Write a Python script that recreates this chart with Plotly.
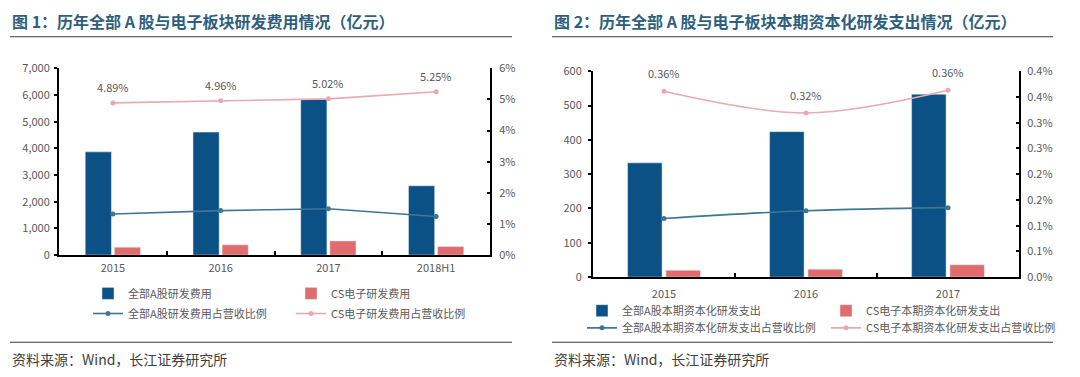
import plotly.graph_objects as go

W, H = 1080, 377
FONT = "Noto Sans CJK SC"

# ---------------- data: chart 1 ----------------
cats1 = ["2015", "2016", "2017", "2018H1"]
a_rd = [3870, 4610, 5840, 2600]           # 全部A股研发费用 (亿元)
cs_rd = [298, 385, 532, 324]              # CS电子研发费用 (亿元)
a_ratio = [0.0132, 0.0143, 0.0149, 0.0124]
cs_ratio = [0.0489, 0.0496, 0.0502, 0.0525]
cs_ratio_labels = ["4.89%", "4.96%", "5.02%", "5.25%"]
y1_ticks = [0, 1000, 2000, 3000, 4000, 5000, 6000, 7000]
y2_ticks = [0, 0.01, 0.02, 0.03, 0.04, 0.05, 0.06]

# ---------------- data: chart 2 ----------------
cats2 = ["2015", "2016", "2017"]
a_cap = [333, 424, 533]                   # 全部A股本期资本化研发支出
cs_cap = [20, 23, 36]                     # CS电子本期资本化研发支出
a_cap_ratio = [0.00114, 0.00129, 0.00135]
cs_cap_ratio = [0.00361, 0.00319, 0.00363]
cs_cap_labels = ["0.36%", "0.32%", "0.36%"]
y3_ticks = [0, 100, 200, 300, 400, 500, 600]
y4_tickvals = [0, 0.0005, 0.001, 0.0015, 0.002, 0.0025, 0.003, 0.0035, 0.004]
y4_ticktext = ["0.0%", "0.1%", "0.1%", "0.2%", "0.2%", "0.3%", "0.3%", "0.4%", "0.4%"]

titles = ["图 1：历年全部 A 股与电子板块研发费用情况（亿元）",
          "图 2：历年全部 A 股与电子板块本期资本化研发支出情况（亿元）"]
source = "资料来源：Wind，长江证券研究所"

BLUE = "#0B5186"
PINK = "#E06C6E"
LBLUE = "#3F7693"
LPINK = "#E9A9B0"
GRAY = "#595959"
TITLE_C = "#2F5F7E"


def px(x):
    return x / W


def py(y):
    return 1 - y / H


fig = go.Figure()

# chart 1 traces
fig.add_trace(go.Bar(x=cats1, y=a_rd, name="全部A股研发费用", marker_color=BLUE,
                     xaxis="x", yaxis="y", legend="legend"))
fig.add_trace(go.Bar(x=cats1, y=cs_rd, name="CS电子研发费用", marker_color=PINK,
                     xaxis="x", yaxis="y", legend="legend2"))
fig.add_trace(go.Scatter(x=cats1, y=a_ratio, name="全部A股研发费用占营收比例",
                         mode="lines+markers", line=dict(color=LBLUE, width=1.6),
                         marker=dict(size=5, color=LBLUE),
                         xaxis="x", yaxis="y2", legend="legend3"))
fig.add_trace(go.Scatter(x=cats1, y=cs_ratio, name="CS电子研发费用占营收比例",
                         mode="lines+markers", line=dict(color=LPINK, width=1.6),
                         marker=dict(size=5, color=LPINK),
                         xaxis="x", yaxis="y2", legend="legend4"))

# chart 2 traces
fig.add_trace(go.Bar(x=cats2, y=a_cap, name="全部A股本期资本化研发支出", marker_color=BLUE,
                     xaxis="x2", yaxis="y3", legend="legend5"))
fig.add_trace(go.Bar(x=cats2, y=cs_cap, name="CS电子本期资本化研发支出", marker_color=PINK,
                     xaxis="x2", yaxis="y3", legend="legend6"))
fig.add_trace(go.Scatter(x=cats2, y=a_cap_ratio, name="全部A股本期资本化研发支出占营收比例",
                         mode="lines+markers", line=dict(color=LBLUE, width=1.6, shape="spline"),
                         marker=dict(size=5, color=LBLUE),
                         xaxis="x2", yaxis="y4", legend="legend7"))
fig.add_trace(go.Scatter(x=cats2, y=cs_cap_ratio, name="CS电子本期资本化研发支出占营收比例",
                         mode="lines+markers", line=dict(color=LPINK, width=1.6, shape="spline"),
                         marker=dict(size=5, color=LPINK),
                         xaxis="x2", yaxis="y4", legend="legend8"))

annotations = []
for i, (v, t) in enumerate(zip(cs_ratio, cs_ratio_labels)):
    annotations.append(dict(x=i, y=v, xref="x", yref="y2", text=t, showarrow=False,
                            yshift=16, font=dict(size=11, color=GRAY, family=FONT)))
for i, (v, t) in enumerate(zip(cs_cap_ratio, cs_cap_labels)):
    annotations.append(dict(x=i, y=v, xref="x2", yref="y4", text=t, showarrow=False,
                            yshift=18, font=dict(size=11, color=GRAY, family=FONT)))

# titles and sources
for i, x0 in enumerate([10, 552]):
    annotations.append(dict(x=px(x0), y=py(13), xref="paper", yref="paper", text="<b>" + titles[i] + "</b>",
                            showarrow=False, xanchor="left", yanchor="middle",
                            font=dict(size=16, color=TITLE_C, family=FONT)))
    annotations.append(dict(x=px(x0), y=py(366), xref="paper", yref="paper", text=source,
                            showarrow=False, xanchor="left", yanchor="middle",
                            font=dict(size=14, color="#404040", family=FONT)))

shapes = []
for x0, x1 in [(10, 512), (552, 1053)]:
    for yy in [29, 348]:
        shapes.append(dict(type="line", xref="paper", yref="paper", x0=px(x0), x1=px(x1),
                           y0=py(yy), y1=py(yy), line=dict(color="#3a3a3a", width=1.2)))

tickfont = dict(size=11, color=GRAY, family=FONT)
axline = dict(showline=True, linecolor="black", linewidth=2, showgrid=False, zeroline=False)

dom_x1 = [px(59), px(490)]
dom_y1 = [py(257), py(62)]
dom_x2 = [px(593), px(1019)]
dom_y2 = [py(280), py(65)]


def legend_at(x, y):
    return dict(x=px(x), y=py(y), xanchor="left", yanchor="middle", bgcolor="rgba(0,0,0,0)",
                font=dict(size=11, color=GRAY, family=FONT), orientation="h",
                itemwidth=30, tracegroupgap=0)


fig.update_layout(
    width=W, height=H, autosize=False,
    margin=dict(l=0, r=0, t=0, b=0),
    paper_bgcolor="white", plot_bgcolor="white",
    font=dict(family=FONT, color=GRAY),
    barmode="group", bargap=0.46, bargroupgap=0.1,
    showlegend=True,
    xaxis=dict(domain=dom_x1, anchor="y", type="category", range=[-0.5, len(cats1) - 0.5],
               ticks="inside", tickson="boundaries",
               ticklen=4, tickwidth=2, tickcolor="black", tickfont=tickfont, ticklabelstandoff=2,
               **axline),
    yaxis=dict(domain=dom_y1, anchor="x", range=[0, 7000], tickvals=y1_ticks, tickformat=",",
               ticks="outside", ticklen=3, tickwidth=2, tickcolor="black", tickfont=tickfont,
               ticklabelstandoff=2, **axline),
    yaxis2=dict(domain=dom_y1, anchor="x", overlaying="y", side="right", range=[0, 0.06],
                tickvals=y2_ticks, tickformat=".0%", ticks="inside", ticklen=3, tickwidth=2,
                tickcolor="black", tickfont=tickfont, ticklabelstandoff=5, **axline),
    xaxis2=dict(domain=dom_x2, anchor="y3", type="category", range=[-0.5, len(cats2) - 0.5],
                ticks="inside", tickson="boundaries",
                ticklen=4, tickwidth=2, tickcolor="black", tickfont=tickfont, ticklabelstandoff=6,
                **axline),
    yaxis3=dict(domain=dom_y2, anchor="x2", range=[0, 600], tickvals=y3_ticks,
                ticks="outside", ticklen=3, tickwidth=2, tickcolor="black", tickfont=tickfont,
                ticklabelstandoff=4, **axline),
    yaxis4=dict(domain=dom_y2, anchor="x2", overlaying="y3", side="right", range=[0, 0.004],
                tickvals=y4_tickvals, ticktext=y4_ticktext, ticks="inside", ticklen=3, tickwidth=2,
                tickcolor="black", tickfont=tickfont, ticklabelstandoff=4, **axline),
    legend=legend_at(88, 297),
    legend2=legend_at(291, 297),
    legend3=legend_at(88, 318),
    legend4=legend_at(291, 318),
    legend5=legend_at(582, 315),
    legend6=legend_at(826, 315),
    legend7=legend_at(582, 333),
    legend8=legend_at(826, 333),
    annotations=annotations,
    shapes=shapes,
)

fig.write_html("out.html", config={"displayModeBar": False},
               post_script="document.body.style.margin='0px';")
